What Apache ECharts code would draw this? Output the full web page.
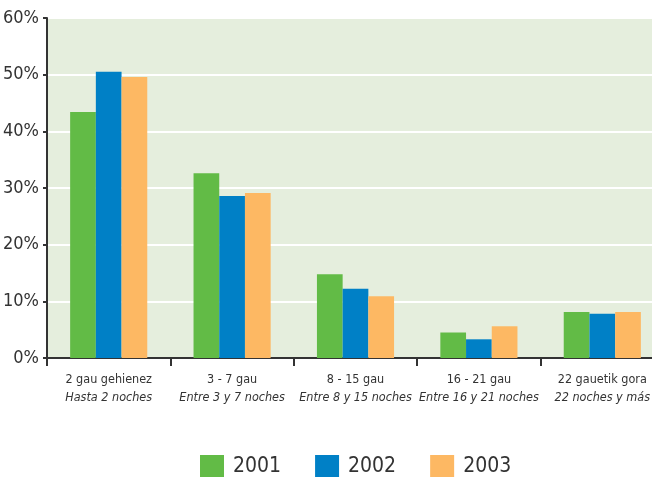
<!DOCTYPE html>
<html>
<head>
<meta charset="utf-8">
<script src="https://cdn.jsdelivr.net/npm/echarts@6/dist/echarts.min.js"></script>
<style>html,body{margin:0;padding:0;background:#fff;}#c{width:652px;height:477px;}</style>
</head>
<body>
<div id="c"></div>
<script>
const categoriesEu = ['2 gau gehienez', '3 - 7 gau', '8 - 15 gau', '16 - 21 gau', '22 gauetik gora'];
const categoriesEs = ['Hasta 2 noches', 'Entre 3 y 7 noches', 'Entre 8 y 15 noches', 'Entre 16 y 21 noches', '22 noches y más'];
const seriesNames = ['2001', '2002', '2003'];
const values2001 = [43.4, 32.6, 14.8, 4.5, 8.1];
const values2002 = [50.5, 28.6, 12.2, 3.3, 7.8];
const values2003 = [49.6, 29.1, 10.9, 5.6, 8.1];
const yTicks = [0, 10, 20, 30, 40, 50, 60];

const FONT = "'DejaVu Sans Condensed', 'Liberation Sans Narrow', sans-serif";
const colors = ['#62bb46', '#0080c6', '#fdb863'];
const categories = categoriesEu.map((e, i) => e + '\n' + categoriesEs[i]);
const data = [values2001, values2002, values2003];

const chart = echarts.init(document.getElementById('c'), null, {renderer: 'canvas'});
chart.setOption({
  animation: false,
  backgroundColor: '#ffffff',
  textStyle: {fontFamily: FONT},
  grid: {
    left: 47, top: 18, height: 340, width: 617,
    outerBoundsMode: 'none',
    containLabel: false,
    show: true, backgroundColor: '#e5eedd', borderWidth: 0
  },
  legend: {
    top: 450, left: 195,
    itemWidth: 24, itemHeight: 23, itemGap: 34,
    icon: 'rect',
    textStyle: {fontFamily: FONT, fontSize: 21, color: '#333', padding: [0, 0, 0, 4]},
    data: seriesNames
  },
  xAxis: {
    type: 'category',
    data: categories,
    axisLine: {show: true, lineStyle: {color: '#333', width: 2}},
    axisTick: {show: true, length: 8, lineStyle: {color: '#333', width: 2}},
    axisLabel: {
      margin: 13,
      interval: 0,
      formatter: function (v) {
        const p = v.split('\n');
        return '{a|' + p[0] + '}\n{b|' + p[1] + '}';
      },
      rich: {
        a: {fontFamily: FONT, fontSize: 12.5, color: '#333', lineHeight: 18},
        b: {fontFamily: FONT, fontSize: 12.5, color: '#333', fontStyle: 'italic', lineHeight: 18}
      }
    }
  },
  yAxis: {
    type: 'value',
    min: yTicks[0], max: yTicks[yTicks.length - 1], interval: 10,
    axisLine: {show: true, lineStyle: {color: '#333', width: 2}},
    axisTick: {show: true, length: 4, lineStyle: {color: '#333', width: 2}},
    axisLabel: {formatter: '{value}%', fontFamily: FONT, fontSize: 18, color: '#333', margin: 8},
    splitLine: {show: true, lineStyle: {color: '#ffffff', width: 2}}
  },
  series: seriesNames.map((n, i) => ({
    name: n,
    type: 'bar',
    data: data[i],
    barGap: '0%',
    barCategoryGap: '37.5%',
    itemStyle: {color: colors[i]}
  }))
});
</script>
</body>
</html>
